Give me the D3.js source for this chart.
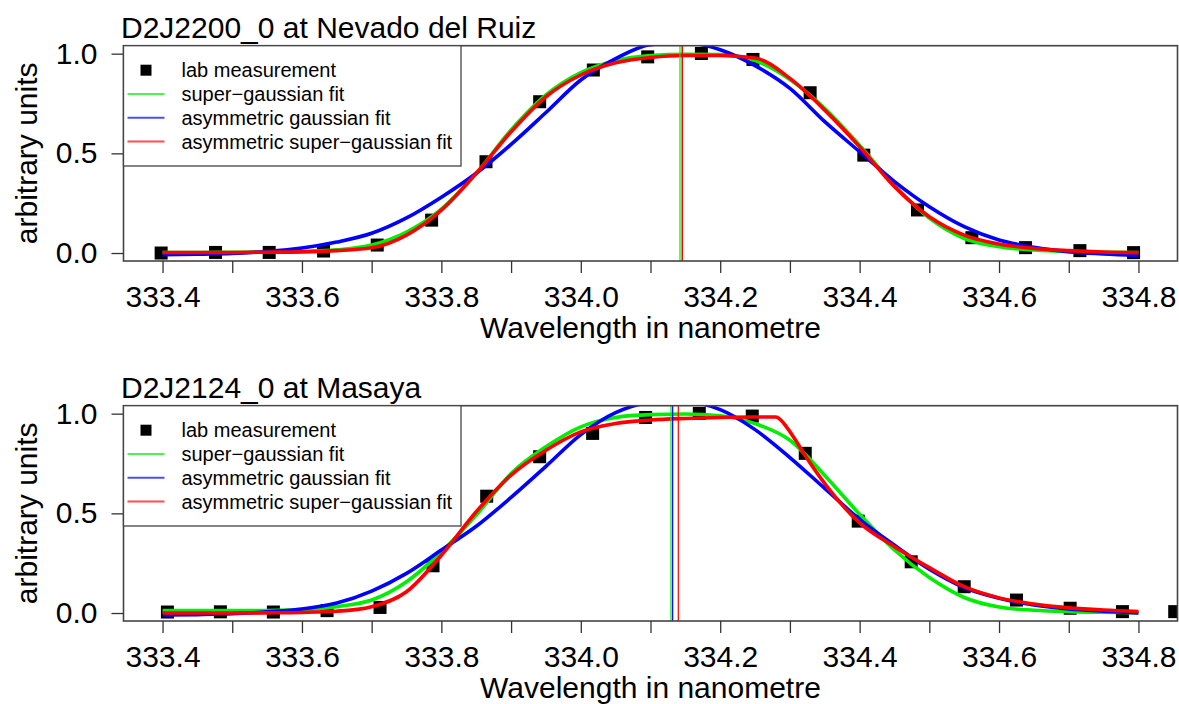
<!DOCTYPE html>
<html lang="en">
<head>
<meta charset="utf-8">
<title>Lamp fits</title>
<style>
  body { margin: 0; background: #fff; }
  text { font-family: "Liberation Sans", Arial, Helvetica, sans-serif; fill: #000; }
  .title { font-size: 30px; }
  .axis-title { font-size: 30px; text-anchor: middle; }
  .axis text { font-size: 30px; font-family: "Liberation Sans", Arial, sans-serif; fill: #000; }
  .axis line { stroke: #333; stroke-width: 1.3; }
  .axis path { display: none; }
  .frame { fill: none; stroke: #444; stroke-width: 1.6; }
  .legend-box { fill: #fff; stroke: #444; stroke-width: 1.3; }
  .legend-text { font-size: 20px; }
  .fit { fill: none; stroke-width: 3.6; stroke-linejoin: round; }
  .centre { stroke-width: 1.2; }
</style>
</head>
<body>
<div id="chart"></div>
<script src="https://cdnjs.cloudflare.com/ajax/libs/d3/7.8.5/d3.min.js"></script>
<script>

// ---- data ----
var xTicks = [333.4, 333.5, 333.6, 333.7, 333.8, 333.9, 334.0, 334.1, 334.2, 334.3, 334.4, 334.5, 334.6, 334.7, 334.8];
var xTickLabels = ["333.4", "", "333.6", "", "333.8", "", "334.0", "", "334.2", "", "334.4", "", "334.6", "", "334.8"];
var yTicks = [0, 0.5, 1];
var yTickLabels = ["0.0", "0.5", "1.0"];

var legendLabels = ["lab measurement", "super\u2212gaussian fit", "asymmetric gaussian fit", "asymmetric super\u2212gaussian fit"];
var fitColors = ["#00ee00", "#0000ff", "#ff0000"];

// common wavelength grid on which the fitted curves were read
var fitX = [333.40, 333.45, 333.50, 333.55, 333.60, 333.65, 333.70, 333.75, 333.80, 333.85,
            333.90, 333.95, 334.00, 334.05, 334.10, 334.15, 334.20, 334.25, 334.30, 334.35,
            334.40, 334.45, 334.50, 334.55, 334.60, 334.65, 334.70, 334.75, 334.80];

// D2J2200_0 at Nevado del Ruiz
var ruizLabX = [333.398, 333.476, 333.553, 333.631, 333.708, 333.786, 333.864, 333.941, 334.018, 334.096,
                334.173, 334.247, 334.329, 334.406, 334.483, 334.561, 334.638, 334.716, 334.793];
var ruizLabY = [0.000, 0.003, 0.003, 0.010, 0.040, 0.165, 0.458, 0.759, 0.918, 0.984,
                1.001, 0.971, 0.804, 0.491, 0.216, 0.077, 0.027, 0.012, 0.002];
var ruizSuperGauss = [0.003, 0.003, 0.004, 0.005, 0.008, 0.016, 0.040, 0.105, 0.220, 0.400,
                      0.617, 0.793, 0.905, 0.965, 0.990, 0.997, 0.995, 0.965, 0.870, 0.725,
                      0.540, 0.340, 0.175, 0.073, 0.032, 0.015, 0.007, 0.004, 0.002];
var ruizAsymGauss = [-0.008, -0.006, -0.002, 0.008, 0.025, 0.055, 0.099, 0.176, 0.280, 0.400,
                     0.545, 0.705, 0.868, 0.975, 1.045, 1.055, 1.020, 0.940, 0.826, 0.659,
                     0.508, 0.358, 0.232, 0.132, 0.065, 0.029, 0.007, -0.005, -0.012];
var ruizAsymSuper = [0.003, 0.003, 0.003, 0.004, 0.006, 0.012, 0.026, 0.090, 0.215, 0.400,
                     0.608, 0.784, 0.893, 0.954, 0.981, 0.991, 0.991, 0.978, 0.876, 0.717,
                     0.533, 0.333, 0.182, 0.090, 0.045, 0.023, 0.012, 0.005, 0.002];
var ruizCentres = [334.1423, 334.1456, 334.1458];

// D2J2124_0 at Masaya
var masayaLabX = [333.407, 333.483, 333.559, 333.636, 333.712, 333.788, 333.865, 333.941, 334.017, 334.093,
                  334.170, 334.246, 334.322, 334.398, 334.474, 334.550, 334.625, 334.702, 334.777, 334.852];
var masayaLabY = [0.005, 0.006, 0.005, 0.012, 0.028, 0.237, 0.586, 0.784, 0.901, 0.981,
                  1.001, 0.988, 0.801, 0.461, 0.257, 0.132, 0.065, 0.024, 0.007, 0.007];
var masayaSuperGauss = [0.012, 0.012, 0.012, 0.013, 0.017, 0.032, 0.065, 0.157, 0.307, 0.491,
                        0.700, 0.834, 0.934, 0.981, 0.995, 0.998, 0.990, 0.950, 0.867, 0.690,
                        0.495, 0.316, 0.178, 0.078, 0.030, 0.014, 0.007, 0.004, 0.002];
var masayaAsymGauss = [-0.010, -0.008, -0.004, 0.006, 0.020, 0.050, 0.110, 0.199, 0.316, 0.435,
                       0.580, 0.736, 0.895, 1.005, 1.055, 1.060, 1.020, 0.920, 0.780, 0.625,
                       0.470, 0.340, 0.220, 0.128, 0.074, 0.040, 0.020, 0.009, 0.000];
// this fit has a kink near 334.28, so it was read on its own grid
var masayaAsymSuperX = [333.40, 333.45, 333.50, 333.55, 333.60, 333.65, 333.70, 333.75, 333.80, 333.85,
                        333.90, 333.95, 334.00, 334.05, 334.10, 334.15, 334.20, 334.25, 334.28, 334.295,
                        334.305, 334.32, 334.35, 334.40, 334.45, 334.50, 334.55, 334.60, 334.65, 334.70,
                        334.75, 334.80];
var masayaAsymSuperY = [0.000, 0.000, 0.000, 0.001, 0.003, 0.009, 0.032, 0.107, 0.290, 0.508,
                        0.692, 0.817, 0.909, 0.951, 0.968, 0.976, 0.981, 0.983, 0.983, 0.934,
                        0.884, 0.800, 0.649, 0.452, 0.333, 0.228, 0.132, 0.076, 0.045, 0.026,
                        0.015, 0.008];
var masayaCentres = [334.1294, 334.1318, 334.1399];

// ---- layout ----
var width = 1179, height = 704;
var plotLeft = 123.5, plotRight = 1177.5, plotHeight = 215.3;

var svg = d3.select("#chart").append("svg")
            .attr("width", width)
            .attr("height", height);

// R style: 4% padding around the data range
var xScale = d3.scaleLinear().domain([333.344, 334.856]).range([plotLeft, plotRight]);

function zip(xs, ys){
  return xs.map(function(x, i){ return {x: x, y: ys[i]}; });
}

function drawPanel(cfg, idx){

  var top = cfg.top, bottom = top + plotHeight;
  var yScale = d3.scaleLinear().domain([-0.04, 1.04]).range([bottom, top]);

  var clipId = "clip" + idx;
  svg.append("clipPath").attr("id", clipId)
     .append("rect")
     .attr("x", plotLeft).attr("y", top)
     .attr("width", plotRight - plotLeft).attr("height", plotHeight);

  var plt = svg.append("g").attr("clip-path", "url(#" + clipId + ")");

  // lab measurement squares
  plt.selectAll("rect.lab")
     .data(zip(cfg.labX, cfg.labY))
     .enter()
     .append("rect")
     .attr("class", "lab")
     .attr("x", function(d){ return xScale(d.x) - 6.5; })
     .attr("y", function(d){ return yScale(d.y) - 6.5; })
     .attr("width", 13)
     .attr("height", 13)
     .style("fill", "#000");

  var line = d3.line()
               .x(function(d){ return xScale(d.x); })
               .y(function(d){ return yScale(d.y); })
               .curve(d3.curveMonotoneX);

  cfg.fits.forEach(function(f, i){
    plt.append("path")
       .datum(zip(f.x, f.y))
       .attr("class", "fit")
       .attr("d", line)
       .style("stroke", fitColors[i]);
  });

  // fitted centre wavelengths
  plt.selectAll("line.centre")
     .data(cfg.centres)
     .enter()
     .append("line")
     .attr("class", "centre")
     .attr("x1", function(d){ return xScale(d); })
     .attr("x2", function(d){ return xScale(d); })
     .attr("y1", top)
     .attr("y2", bottom)
     .style("stroke", function(d, i){ return fitColors[i]; });

  svg.append("rect")
     .attr("class", "frame")
     .attr("x", plotLeft).attr("y", top)
     .attr("width", plotRight - plotLeft).attr("height", plotHeight);

  var xAxis = d3.axisBottom(xScale)
                .tickValues(xTicks)
                .tickSize(12)
                .tickPadding(12.5)
                .tickFormat(function(d, i){ return xTickLabels[i]; });

  var yAxis = d3.axisLeft(yScale)
                .tickValues(yTicks)
                .tickSize(12)
                .tickPadding(14)
                .tickFormat(function(d, i){ return yTickLabels[i]; });

  svg.append("g")
     .attr("class", "x axis")
     .attr("transform", "translate(0," + bottom + ")")
     .call(xAxis);

  svg.append("g")
     .attr("class", "y axis")
     .attr("transform", "translate(" + plotLeft + ",0)")
     .call(yAxis);

  svg.append("text")
     .attr("class", "title")
     .attr("x", 121)
     .attr("y", top - 8)
     .text(cfg.title);

  svg.append("text")
     .attr("class", "axis-title")
     .attr("x", (plotLeft + plotRight) / 2)
     .attr("y", bottom + 76.5)
     .text("Wavelength in nanometre");

  svg.append("text")
     .attr("class", "axis-title")
     .attr("transform", "translate(37," + (top + plotHeight / 2) + ") rotate(-90)")
     .text("arbitrary units");

  // legend
  var leg = svg.append("g").attr("transform", "translate(" + plotLeft + "," + top + ")");

  leg.append("rect")
     .attr("class", "legend-box")
     .attr("width", 337.5)
     .attr("height", 120.3);

  var rows = leg.selectAll("g.row")
                .data(legendLabels)
                .enter()
                .append("g")
                .attr("transform", function(d, i){ return "translate(0," + (24.5 + i * 23.8) + ")"; });

  rows.filter(function(d, i){ return i === 0; })
      .append("rect")
      .attr("x", 17)
      .attr("y", -5.5)
      .attr("width", 11)
      .attr("height", 11)
      .style("fill", "#000");

  rows.filter(function(d, i){ return i > 0; })
      .append("line")
      .attr("x1", 4)
      .attr("x2", 41)
      .style("stroke", function(d, i){ return fitColors[i]; })
      .style("stroke-width", 2)
      .style("stroke-opacity", 0.7);

  rows.append("text")
      .attr("class", "legend-text")
      .attr("x", 58)
      .attr("dy", "0.35em")
      .text(function(d){ return d; });
}

drawPanel({
  top: 45.7,
  title: "D2J2200_0 at Nevado del Ruiz",
  labX: ruizLabX, labY: ruizLabY,
  fits: [{x: fitX, y: ruizSuperGauss}, {x: fitX, y: ruizAsymGauss}, {x: fitX, y: ruizAsymSuper}],
  centres: ruizCentres
}, 0);

drawPanel({
  top: 405.7,
  title: "D2J2124_0 at Masaya",
  labX: masayaLabX, labY: masayaLabY,
  fits: [{x: fitX, y: masayaSuperGauss}, {x: fitX, y: masayaAsymGauss}, {x: masayaAsymSuperX, y: masayaAsymSuperY}],
  centres: masayaCentres
}, 1);

</script>
</body>
</html>
